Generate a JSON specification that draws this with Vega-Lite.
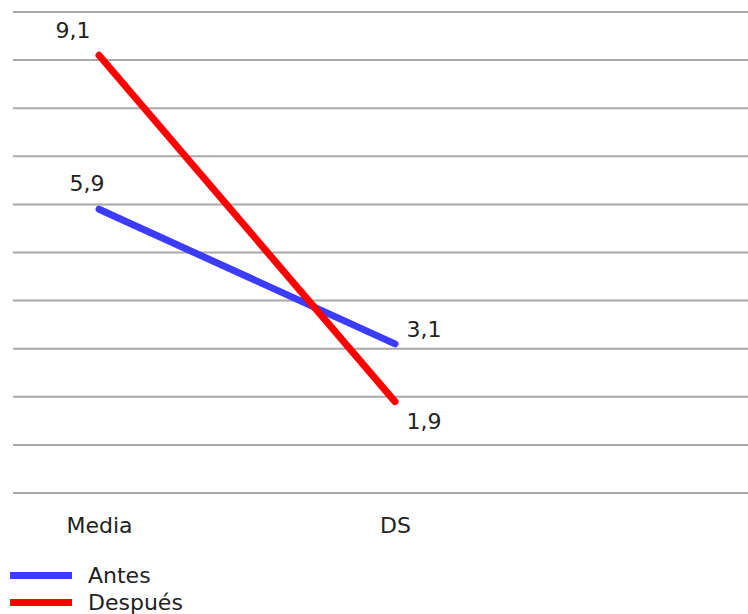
{
  "$schema": "https://vega.github.io/schema/vega-lite/v6.json",
  "autosize": "none",
  "width": 735,
  "height": 481,
  "padding": {"left": 13, "top": 12, "right": 0, "bottom": 121},
  "background": "white",
  "config": {
    "view": {"stroke": null},
    "font": "DejaVu Sans"
  },
  "datasets": {
    "puntos": [
      {"stat": "Media", "serie": "Antes", "valor": 5.9, "etiqueta": "5,9"},
      {"stat": "DS", "serie": "Antes", "valor": 3.1, "etiqueta": "3,1"},
      {"stat": "Media", "serie": "Después", "valor": 9.1, "etiqueta": "9,1"},
      {"stat": "DS", "serie": "Después", "valor": 1.9, "etiqueta": "1,9"}
    ],
    "rejilla": [
      {"v": 0}, {"v": 1}, {"v": 2}, {"v": 3}, {"v": 4}, {"v": 5},
      {"v": 6}, {"v": 7}, {"v": 8}, {"v": 9}, {"v": 10}
    ]
  },
  "data": {"name": "puntos"},
  "layer": [
    {
      "data": {"name": "rejilla"},
      "mark": {"type": "rule", "color": "#a8a8a8", "strokeWidth": 2},
      "encoding": {
        "y": {"field": "v", "type": "quantitative", "scale": {"domain": [0, 10], "nice": false}, "axis": null}
      }
    },
    {
      "mark": {"type": "line", "strokeWidth": 7, "strokeCap": "round"},
      "encoding": {
        "x": {
          "field": "stat",
          "type": "ordinal",
          "sort": ["Media", "DS"],
          "scale": {"type": "point", "domain": ["Media", "DS"], "range": [86, 382], "padding": 0},
          "axis": {
            "title": null,
            "domain": false,
            "ticks": false,
            "grid": false,
            "labelAngle": 0,
            "labelFont": "DejaVu Sans",
            "labelFontSize": 22,
            "labelColor": "#222222",
            "labelBaseline": "middle",
            "labelPadding": 32
          }
        },
        "y": {"field": "valor", "type": "quantitative", "axis": null},
        "color": {
          "field": "serie",
          "type": "nominal",
          "scale": {"domain": ["Antes", "Después"], "range": ["#3c3cff", "#ff0000"]},
          "legend": {
            "title": null,
            "orient": "none",
            "legendX": 16.5,
            "legendY": 552,
            "padding": 0,
            "symbolType": "M-4,0H4",
            "symbolSize": 240,
            "symbolStrokeWidth": 7,
            "symbolOffset": 0,
            "labelOffset": 35.5,
            "rowPadding": -2,
            "labelFont": "DejaVu Sans",
            "labelFontSize": 22,
            "labelColor": "#222222",
            "labelBaseline": "middle"
          }
        }
      }
    },
    {
      "transform": [{"filter": "datum.etiqueta === '9,1'"}],
      "mark": {"type": "text", "align": "center", "baseline": "middle", "dx": -26, "dy": -24, "fontSize": 22, "font": "DejaVu Sans", "color": "#222222"},
      "encoding": {"x": {"field": "stat", "type": "ordinal"}, "y": {"field": "valor", "type": "quantitative"}, "text": {"field": "etiqueta"}}
    },
    {
      "transform": [{"filter": "datum.etiqueta === '5,9'"}],
      "mark": {"type": "text", "align": "center", "baseline": "middle", "dx": -12, "dy": -25, "fontSize": 22, "font": "DejaVu Sans", "color": "#222222"},
      "encoding": {"x": {"field": "stat", "type": "ordinal"}, "y": {"field": "valor", "type": "quantitative"}, "text": {"field": "etiqueta"}}
    },
    {
      "transform": [{"filter": "datum.etiqueta === '3,1'"}],
      "mark": {"type": "text", "align": "center", "baseline": "middle", "dx": 29, "dy": -14, "fontSize": 22, "font": "DejaVu Sans", "color": "#222222"},
      "encoding": {"x": {"field": "stat", "type": "ordinal"}, "y": {"field": "valor", "type": "quantitative"}, "text": {"field": "etiqueta"}}
    },
    {
      "transform": [{"filter": "datum.etiqueta === '1,9'"}],
      "mark": {"type": "text", "align": "center", "baseline": "middle", "dx": 29, "dy": 20, "fontSize": 22, "font": "DejaVu Sans", "color": "#222222"},
      "encoding": {"x": {"field": "stat", "type": "ordinal"}, "y": {"field": "valor", "type": "quantitative"}, "text": {"field": "etiqueta"}}
    }
  ]
}
